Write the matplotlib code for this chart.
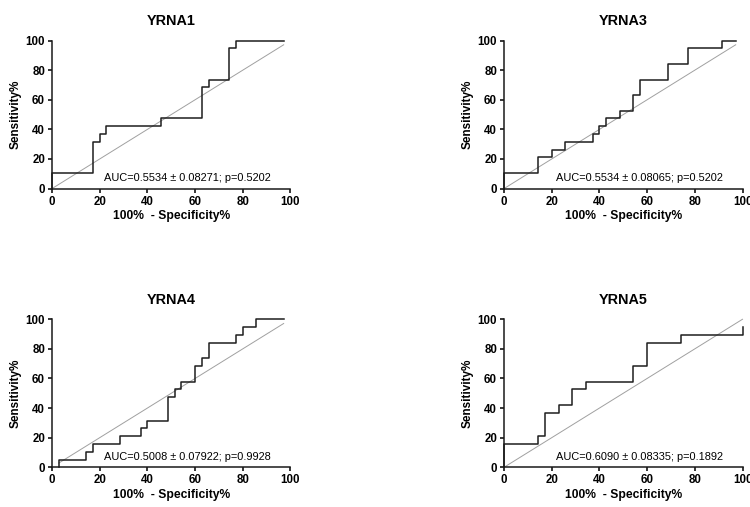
import matplotlib
matplotlib.use("Agg")
import matplotlib.pyplot as plt

plt.rcParams["font.family"] = ["Liberation Sans", "DejaVu Sans"]

titles = ["YRNA1", "YRNA3", "YRNA4", "YRNA5"]
auc_text = [
    "AUC=0.5534 \u00b1 0.08271; p=0.5202",
    "AUC=0.5534 \u00b1 0.08065; p=0.5202",
    "AUC=0.5008 \u00b1 0.07922; p=0.9928",
    "AUC=0.6090 \u00b1 0.08335; p=0.1892",
]

# ROC staircase vertices (100% - specificity, sensitivity), step "post"
fpr1 = [0, 0, 17.14, 20.00, 22.86, 45.71, 62.86, 65.71, 74.29, 77.14, 97.14]
tpr1 = [0, 10.53, 31.58, 36.84, 42.11, 47.37, 68.42, 73.68, 94.74, 100, 100]

fpr3 = [0, 0, 14.29, 20.00, 25.71, 37.14, 40.00, 42.86, 48.57, 54.29, 57.14,
        68.57, 77.14, 91.43, 97.14]
tpr3 = [0, 10.53, 21.05, 26.32, 31.58, 36.84, 42.11, 47.37, 52.63, 63.16, 73.68,
        84.21, 94.74, 100, 100]

fpr4 = [2.86, 2.86, 14.29, 17.14, 28.57, 37.14, 40.00, 48.57, 51.43, 54.29,
        60.00, 62.86, 65.71, 77.14, 80.00, 85.71, 97.14]
tpr4 = [0, 5.26, 10.53, 15.79, 21.05, 26.32, 31.58, 47.37, 52.63, 57.89,
        68.42, 73.68, 84.21, 89.47, 94.74, 100, 100]

fpr5 = [0, 0, 14.29, 17.14, 22.86, 28.57, 34.29, 54.29, 60.00, 74.29, 100]
tpr5 = [0, 15.79, 21.05, 36.84, 42.11, 52.63, 57.89, 68.42, 84.21, 89.47, 94.74]

curves = [(fpr1, tpr1), (fpr3, tpr3), (fpr4, tpr4), (fpr5, tpr5)]

fig = plt.figure(figsize=(7.5, 5.07), dpi=100)
lefts = [0.0693, 0.672, 0.0693, 0.672]
bottoms = [0.628, 0.628, 0.0783, 0.0783]
w, h = 0.318, 0.292

for i, (fpr, tpr) in enumerate(curves):
    ax = fig.add_axes([lefts[i], bottoms[i], w, h])
    # line of identity over the data range
    lo, hi = min(fpr), max(fpr)
    ax.plot([lo, hi], [lo, hi], color="#a0a0a0", lw=0.7, clip_on=False)
    ax.step(fpr, tpr, where="post", color="#1e1e1e", lw=1.1, clip_on=False)

    ax.set_xlim(0, 100)
    ax.set_ylim(0, 100)
    ax.set_xticks(range(0, 101, 20))
    ax.set_yticks(range(0, 101, 20))
    for s in ["top", "right"]:
        ax.spines[s].set_visible(False)
    for s in ["left", "bottom"]:
        ax.spines[s].set_linewidth(1.1)
        ax.spines[s].set_color("#1a1a1a")
    ax.tick_params(direction="out", length=3, width=1.1, labelsize=8.3, pad=2)
    for lab in ax.get_xticklabels() + ax.get_yticklabels():
        lab.set_fontweight("bold")

    ax.set_title(titles[i], fontsize=10.4, fontweight="bold", pad=11)
    ax.set_xlabel("100%  - Specificity%", fontsize=8.7, fontweight="bold", labelpad=2)
    ax.set_ylabel("Sensitivity%", fontsize=8.5, fontweight="bold", labelpad=3)
    ax.text(22, 5, auc_text[i], fontsize=7.9, va="baseline", ha="left")

plt.savefig("out.png", dpi=100)
